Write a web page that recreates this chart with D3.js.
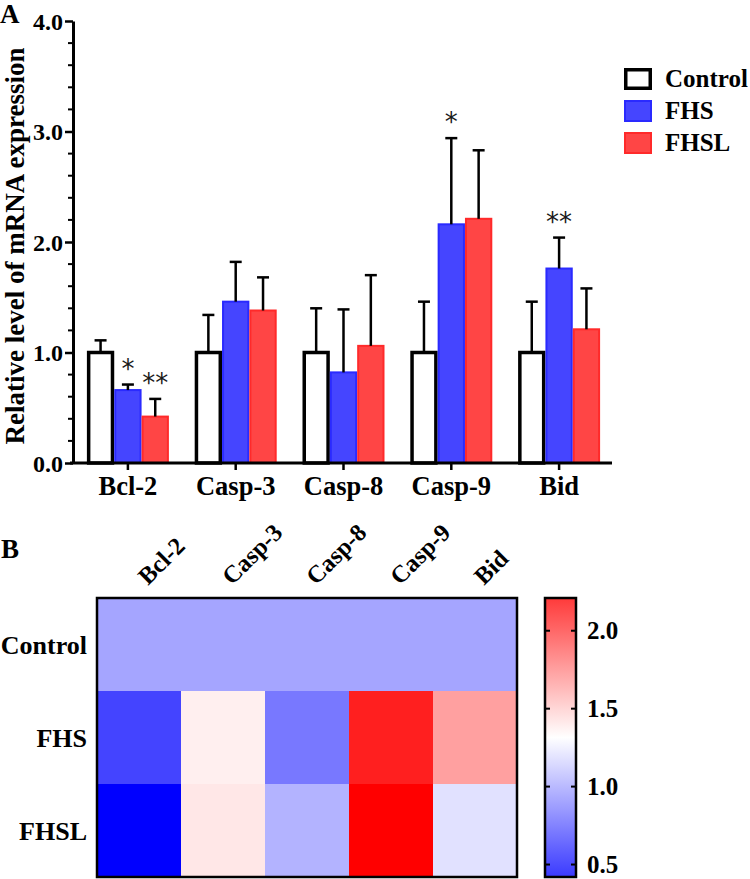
<!DOCTYPE html>
<html>
<head>
<meta charset="utf-8">
<script src="https://cdn.jsdelivr.net/npm/d3@7"></script>
<style>
  html, body { margin: 0; padding: 0; background: #fff; }
  svg { display: block; }
  text { font-family: "Liberation Serif", Tinos, "Times New Roman", Times, "DejaVu Serif", serif; font-weight: bold; fill: #000; }
  text.ast { font-family: "DejaVu Sans", sans-serif; font-weight: normal; fill: #1a1a1a; }
</style>
</head>
<body>
<svg id="chart" width="750" height="879"></svg>
<script>
// ---------------- data ----------------
const categories = ["Bcl-2", "Casp-3", "Casp-8", "Casp-9", "Bid"];
const groups = ["Control", "FHS", "FHSL"];

const controlMean = [1.00, 1.00, 1.00, 1.00, 1.00];
const controlSD   = [0.11, 0.34, 0.40, 0.46, 0.46];
const fhsMean     = [0.66, 1.46, 0.82, 2.16, 1.76];
const fhsSD       = [0.05, 0.36, 0.57, 0.78, 0.28];
const fhslMean    = [0.42, 1.38, 1.06, 2.21, 1.21];
const fhslSD      = [0.16, 0.30, 0.64, 0.62, 0.37];

const sigFHS  = ["*", "", "", "*", "**"];
const sigFHSL = ["**", "", "", "", ""];

const yTicks = [0, 1, 2, 3, 4];
const yTickLabels = ["0.0", "1.0", "2.0", "3.0", "4.0"];

// heatmap
const heatControl = [1.00, 1.00, 1.00, 1.00, 1.00];
const heatFHS     = [0.66, 1.37, 0.84, 2.10, 1.65];
const heatFHSL    = [0.42, 1.40, 1.05, 2.21, 1.21];
const colorbarTicks = [0.5, 1.0, 1.5, 2.0];
const colorbarTickLabels = ["0.5", "1.0", "1.5", "2.0"];

// ---------------- build ----------------
const svg = d3.select("#chart");

const means = [controlMean, fhsMean, fhslMean];
const sds = [controlSD, fhsSD, fhslSD];
const sigs = [null, sigFHS, sigFHSL];
const barRows = [];
categories.forEach((c, i) => {
  groups.forEach((g, j) => {
    barRows.push({ cat: c, grp: g, mean: means[j][i], sd: sds[j][i], sig: sigs[j] ? sigs[j][i] : "" });
  });
});

const fills = { Control: "#ffffff", FHS: "#4545ff", FHSL: "#ff4545" };
const strokes = { Control: "#000000", FHS: "#2a2aff", FHSL: "#ff2a2a" };
const strokeW = { Control: 3.5, FHS: 2, FHSL: 2 };

const y = d3.scaleLinear().domain([0, 4]).range([463, 21]);
const x0 = d3.scaleBand().domain(categories).range([74, 613]).padding(0);
const x1 = d3.scaleBand().domain(groups).range([-41, 41]).padding(0);

const gA = svg.append("g");

// Bars
const bars = gA.selectAll("g.bar").data(barRows).enter().append("g")
  .attr("transform", d => `translate(${x0(d.cat) + x0.bandwidth() / 2},0)`);

bars.append("rect")
  .attr("x", d => x1(d.grp) + strokeW[d.grp] / 2)
  .attr("width", d => x1.bandwidth() - strokeW[d.grp])
  .attr("y", d => y(d.mean))
  .attr("height", d => y(0) - y(d.mean))
  .attr("fill", d => fills[d.grp])
  .attr("stroke", d => strokes[d.grp])
  .attr("stroke-width", d => strokeW[d.grp]);

// Error bars (upper only)
bars.append("line")
  .attr("x1", d => x1(d.grp) + x1.bandwidth() / 2)
  .attr("x2", d => x1(d.grp) + x1.bandwidth() / 2)
  .attr("y1", d => y(d.mean))
  .attr("y2", d => y(d.mean + d.sd))
  .attr("stroke", "#000").attr("stroke-width", 2.5);
bars.append("line")
  .attr("x1", d => x1(d.grp) + x1.bandwidth() / 2 - 6)
  .attr("x2", d => x1(d.grp) + x1.bandwidth() / 2 + 6)
  .attr("y1", d => y(d.mean + d.sd))
  .attr("y2", d => y(d.mean + d.sd))
  .attr("stroke", "#000").attr("stroke-width", 2.5);

// significance
bars.filter(d => d.sig).append("text")
  .attr("class", "ast")
  .attr("x", d => x1(d.grp) + x1.bandwidth() / 2)
  .attr("y", d => y(d.mean + d.sd) - 7)
  .attr("text-anchor", "middle")
  .attr("font-size", 26)
  .text(d => d.sig);

// Y axis
const yAxis = d3.axisLeft(y).tickValues(yTicks).tickFormat((d, i) => yTickLabels[i]).tickSize(8).tickSizeOuter(0);
const yg = gA.append("g").attr("transform", "translate(73,0)").call(yAxis);
yg.attr("font-family", null).attr("font-size", null);
yg.select(".domain").attr("stroke", "#000").attr("stroke-width", 3);
yg.selectAll(".tick line").attr("stroke", "#000").attr("stroke-width", 2.5);
yg.selectAll(".tick text").attr("fill", null)
  .attr("font-size", 24).attr("x", -10).attr("dy", "0.34em");
// minor ticks
const minor = d3.range(0, 4.001, 0.2).filter(v => Math.abs(v - Math.round(v)) > 1e-6);
gA.append("g").selectAll("line").data(minor).enter().append("line")
  .attr("x1", 73 - 5).attr("x2", 73)
  .attr("y1", d => y(d)).attr("y2", d => y(d))
  .attr("stroke", "#000").attr("stroke-width", 2);

// X axis
const xAxis = d3.axisBottom(x0).tickSize(7).tickSizeOuter(0);
const xg = gA.append("g").attr("transform", `translate(0,${y(0)})`).call(xAxis);
xg.attr("font-family", null).attr("font-size", null);
xg.select(".domain").attr("d", `M70,0H612`).attr("stroke", "#000").attr("stroke-width", 3);
xg.selectAll(".tick line").attr("stroke", "#000").attr("stroke-width", 2.5);
xg.selectAll(".tick text").attr("fill", null)
  .attr("font-size", 26.5).attr("y", 13);

// Y title
gA.append("text")
  .attr("transform", "translate(24,246) rotate(-90)")
  .attr("text-anchor", "middle")
  .attr("font-size", 27)
  .text("Relative level of mRNA expression");

// Panel label A
svg.append("text").attr("x", 0).attr("y", 23).attr("font-size", 27).text("A");

// Legend
const leg = svg.append("g").selectAll("g").data(groups).enter().append("g")
  .attr("transform", (d, i) => `translate(624,${68 + i * 32})`);
leg.append("rect")
  .attr("x", d => strokeW[d] / 2).attr("y", d => strokeW[d] / 2)
  .attr("width", d => 28 - strokeW[d]).attr("height", d => 22 - strokeW[d])
  .attr("fill", d => fills[d]).attr("stroke", d => strokes[d]).attr("stroke-width", d => strokeW[d]);
leg.append("text").attr("x", 41).attr("y", 19).attr("font-size", 25).text(d => d);

// ---------------- Heatmap ----------------
svg.append("text").attr("x", 1).attr("y", 558).attr("font-size", 27).text("B");

const heatRowsData = [heatControl, heatFHS, heatFHSL];
const cells = [];
groups.forEach((g, r) => categories.forEach((c, k) => cells.push({ row: g, col: c, v: heatRowsData[r][k] })));

const hx = d3.scaleBand().domain(categories).range([97, 517]);
const hy = d3.scaleBand().domain(groups).range([598, 877]);
const allV = cells.map(d => d.v);
const vmin = d3.min(allV), vmax = d3.max(allV);
const color = d3.scaleLinear().domain([vmin, (vmin + vmax) / 2, vmax])
  .range(["#0000ff", "#ffffff", "#ff0000"]).interpolate(d3.interpolateRgb);
// the legend bar is drawn slightly lighter at its ends in the original
const colorBar = d3.scaleLinear().domain([vmin, (vmin + vmax) / 2, vmax])
  .range(["#3a3aff", "#ffffff", "#ff3a3a"]).interpolate(d3.interpolateRgb);

svg.append("g").selectAll("rect").data(cells).enter().append("rect")
  .attr("x", d => hx(d.col)).attr("y", d => hy(d.row))
  .attr("width", hx.bandwidth() + 0.5).attr("height", hy.bandwidth() + 0.5)
  .attr("fill", d => color(d.v));
svg.append("rect").attr("x", 97).attr("y", 598).attr("width", 420).attr("height", 279)
  .attr("fill", "none").attr("stroke", "#000").attr("stroke-width", 2.5);

// column labels
svg.append("g").selectAll("text").data(categories).enter().append("text")
  .attr("transform", d => `translate(${hx(d) + hx.bandwidth() / 2 + 9},586) rotate(-45)`)
  .attr("font-size", 24.5)
  .text(d => d);
// row labels
svg.append("g").selectAll("text").data(groups).enter().append("text")
  .attr("x", 87).attr("y", d => hy(d) + hy.bandwidth() / 2)
  .attr("dy", "0.35em")
  .attr("text-anchor", "end")
  .attr("font-size", 26)
  .text(d => d);

// Colorbar
const cb = d3.scaleLinear().domain([vmin, vmax]).range([877, 598]);
const defs = svg.append("defs");
const grad = defs.append("linearGradient").attr("id", "cbgrad")
  .attr("x1", 0).attr("y1", 1).attr("x2", 0).attr("y2", 0);
d3.range(0, 1.0001, 0.05).forEach(t => {
  grad.append("stop").attr("offset", t).attr("stop-color", colorBar(vmin + t * (vmax - vmin)));
});
svg.append("rect").attr("x", 545).attr("y", 598).attr("width", 31).attr("height", 279)
  .attr("fill", "url(#cbgrad)").attr("stroke", "#000").attr("stroke-width", 2.5);
const cbt = svg.append("g").selectAll("g").data(colorbarTicks).enter().append("g")
  .attr("transform", d => `translate(0,${cb(d)})`);
cbt.append("line").attr("x1", 545).attr("x2", 550).attr("stroke", "#000").attr("stroke-width", 2);
cbt.append("line").attr("x1", 571).attr("x2", 576).attr("stroke", "#000").attr("stroke-width", 2);
cbt.append("text").attr("x", 587).attr("dy", "0.35em").attr("font-size", 25)
  .text((d, i) => colorbarTickLabels[i]);
</script>
</body>
</html>
